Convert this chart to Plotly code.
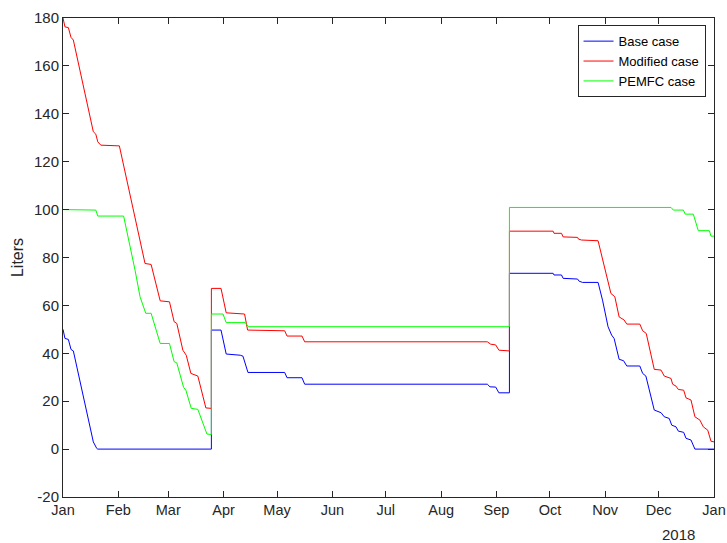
import pandas as pd
import plotly.graph_objects as go

start = pd.Timestamp("2018-01-01")

# Day offsets from 2018-01-01 and tank level (Liters)
base_days = [0, 1.1, 3.0, 4.5, 5.8, 17.0, 18.9, 19.5, 83.2, 83.2, 88.6, 91.5, 99.4, 100.9, 103.7,
             124.3, 125.6, 134.0, 135.5, 237.9, 239.4, 242.6, 244.4, 250.3, 250.3, 274.8, 275.3,
             279.5, 280.4, 288.5, 289.4, 291.3, 300.0, 302.5, 305.6, 307.6, 309.0, 311.8, 314.3,
             316.1, 323.4, 325.0, 326.8, 331.5, 335.3, 337.1, 339.9, 341.3, 343.7, 345.0, 348.0,
             349.3, 352.1, 354.3, 365]
base_vals = [50.0, 46.2, 45.8, 41.6, 41.0, 3.0, 0.3, 0, 0, 49.7, 49.7, 39.7, 39.2, 38.8, 32.0,
             32.0, 29.8, 29.8, 27.1, 27.1, 26.0, 25.9, 23.5, 23.5, 73.4, 73.4, 72.7,
             72.7, 71.3, 71.0, 70.1, 69.6, 69.6, 62.2, 51.1, 47.6, 46.2, 37.5, 36.9,
             34.7, 34.7, 31.6, 30.5, 16.3, 15.2, 13.5, 12.8, 10.0, 9.3, 7.5, 7.0,
             4.5, 3.8, 0, 0]

mod_days = [0, 1.1, 3.0, 4.5, 5.8, 17.0, 18.4, 19.5, 21.2, 31.6, 46.0, 49.4, 54.5, 59.7, 62.3,
            63.8, 67.2, 69.1, 71.7, 75.6, 80.1, 83.2, 83.2, 88.6, 91.5, 99.4, 101.8, 103.5,
            124.3, 125.6, 134.0, 135.5, 237.9, 239.8, 242.6, 244.4, 250.3, 250.3, 274.8, 275.3,
            279.5, 280.4, 288.5, 289.0, 290.7, 300.0, 303.9, 307.2, 309.4, 311.8, 314.6, 316.1,
            323.4, 325.0, 327.0, 331.5, 335.3, 337.1, 340.9, 341.8, 343.7, 345.0, 348.0, 349.3,
            352.1, 354.3, 357.1, 359.0, 361.5, 363.3, 365]
mod_vals = [180, 176.3, 176.0, 171.9, 170.8, 132.5, 131.5, 128.3, 126.9, 126.6, 77.5, 77.1, 61.9,
            61.5, 53.2, 52.5, 41.3, 39.2, 31.6, 30.5, 17.2, 17.0, 67.1, 67.1, 56.9, 56.7, 56.4,
            49.7, 49.4, 47.2, 47.2, 44.8, 44.8, 43.8, 43.5, 41.3, 41.0, 91.0, 91.0, 90.1,
            90.1, 88.6, 88.4, 87.7, 87.3, 87.0, 74.7, 65.0, 63.6, 55.2, 53.9, 52.2,
            52.2, 49.4, 48.3, 33.3, 33.0, 30.5, 29.5, 27.1, 26.3, 24.9, 24.6, 21.4,
            20.5, 13.5, 12.1, 9.3, 7.9, 3.3, 3.0]

pem_days = [0, 18.4, 19.5, 34.0, 40.4, 43.2, 46.4, 49.4, 54.5, 59.7, 62.3, 63.8, 67.6, 68.9,
            71.9, 75.6, 80.7, 83.2, 83.2, 89.7, 91.5, 102.2, 104.1, 250.3, 250.3, 340.9, 342.2,
            347.8, 348.9, 353.4, 356.2, 362.4, 363.3, 365]
pem_vals = [100, 99.8, 97.3, 97.3, 74.7, 63.6, 56.7, 56.7, 44.1, 44.1, 36.5, 36.0, 25.8, 24.6,
            17.0, 16.6, 6.3, 6.1, 56.4, 56.4, 52.8, 52.8, 51.1, 51.1, 100.9, 100.9, 99.8,
            99.8, 98.1, 98.1, 91.2, 91.2, 88.9, 88.9]

series = [("Base case", base_days, base_vals, "#0000FF"),
          ("Modified case", mod_days, mod_vals, "#FF0000"),
          ("PEMFC case", pem_days, pem_vals, "#00FF00")]

month_starts = pd.date_range("2018-01-01", "2019-01-01", freq="MS")
month_labels = ["Jan", "Feb", "Mar", "Apr", "May", "Jun", "Jul", "Aug", "Sep", "Oct", "Nov", "Dec", "Jan"]
y_ticks = list(range(-20, 181, 20))
y_labels = [str(v) for v in y_ticks]
year_label = "2018"

FONT = "Liberation Sans, Arial, sans-serif"
AX = "#262626"

fig = go.Figure()
for name, d, v, c in series:
    fig.add_trace(go.Scatter(
        x=[start + pd.Timedelta(days=float(x)) for x in d], y=v,
        mode="lines", name=name, line=dict(color=c, width=1)))

fig.update_layout(
    width=727, height=543,
    margin=dict(l=63, r=13, t=18, b=46),
    paper_bgcolor="white", plot_bgcolor="white",
    font=dict(family=FONT, size=15, color=AX),
    showlegend=True,
    legend=dict(x=0.987, xanchor="right", y=0.985, yanchor="top",
                bgcolor="white", bordercolor=AX, borderwidth=1,
                font=dict(size=13, color="black"), itemwidth=30,
                tracegroupgap=0),
    xaxis=dict(range=[month_starts[0], month_starts[-1]],
               tickvals=list(month_starts), ticktext=month_labels,
               ticks="inside", ticklen=6, tickcolor=AX,
               showline=True, linecolor=AX, linewidth=1, mirror="ticks",
               showgrid=False, zeroline=False, automargin=False,
               tickfont=dict(size=14.5, color=AX)),
    yaxis=dict(range=[-20, 180], tickvals=y_ticks, ticktext=y_labels,
               ticks="inside", ticklen=6, tickcolor=AX,
               showline=True, linecolor=AX, linewidth=1, mirror="ticks",
               showgrid=False, zeroline=False, automargin=False,
               tickfont=dict(size=15, color=AX),
               title=dict(text="Liters", font=dict(size=16, color=AX), standoff=6)),
)

fig.add_annotation(text=year_label, xref="paper", yref="paper",
                   x=0.945, y=-0.079, xanchor="center", yanchor="middle",
                   showarrow=False, font=dict(size=15, color=AX))

fig.write_html("out.html",
               config={"displayModeBar": False},
               post_script="document.body.style.margin='0';document.body.style.overflow='hidden';")
